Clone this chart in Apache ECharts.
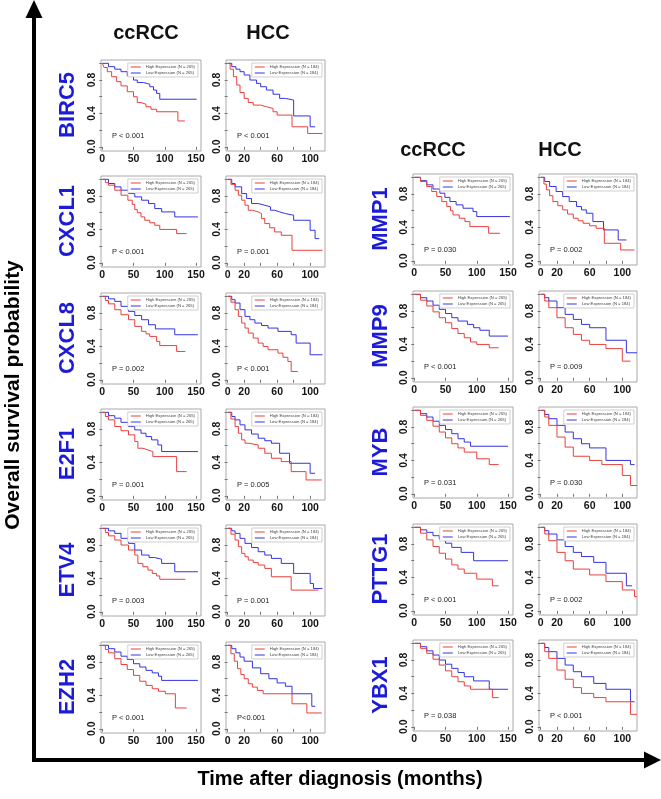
<!DOCTYPE html>
<html><head><meta charset="utf-8">
<script src="https://cdn.jsdelivr.net/npm/echarts@6/dist/echarts.min.js"></script>
<style>html,body{margin:0;padding:0;background:#fff}#main{width:661px;height:799px}</style>
</head><body><div id="main"></div>
<script>
// ---------- DATA (time in months, survival probability; step functions) ----------
const genesLeft = ['BIRC5','CXCL1','CXCL8','E2F1','ETV4','EZH2'];
const genesRight = ['MMP1','MMP9','MYB','PTTG1','YBX1'];
const pLeftCC  = ['P < 0.001','P < 0.001','P = 0.002','P = 0.001','P = 0.003','P < 0.001'];
const pLeftHCC = ['P < 0.001','P = 0.001','P < 0.001','P = 0.005','P = 0.001','P<0.001'];
const pRightCC  = ['P = 0.030','P < 0.001','P = 0.031','P < 0.001','P = 0.038'];
const pRightHCC = ['P = 0.002','P = 0.009','P = 0.030','P = 0.002','P < 0.001'];
const ccTickLabels = [0,50,100,150];
const hccTickLabels = [0,20,60,100];
const hccTicks = [0,20,40,60,80,100];
const yTickLabels = [0,0.4,0.8];
const yTicks = [0,0.2,0.4,0.6,0.8,1.0];

const BIRC5_cc_high = [[0,1],[3,0.95],[8,0.9],[15,0.84],[23,0.78],[30,0.73],[40,0.66],[50,0.6],[56,0.53],[62,0.51],[70,0.48],[78,0.45],[87,0.42],[121,0.31],[132,0.31]];
const BIRC5_cc_low  = [[0,1],[10,0.96],[20,0.93],[30,0.9],[40,0.85],[50,0.8],[56,0.77],[66,0.75],[76,0.72],[82,0.68],[87,0.64],[92,0.57],[151,0.57]];
const BIRC5_hcc_high = [[0,1],[3,0.93],[7,0.84],[11,0.74],[15,0.65],[20,0.58],[25,0.53],[31,0.5],[40,0.48],[47,0.46],[55,0.42],[60,0.38],[78,0.24],[97,0.16],[115,0.16]];
const BIRC5_hcc_low  = [[0,1],[5,0.96],[10,0.93],[15,0.9],[20,0.86],[27,0.8],[35,0.76],[40,0.72],[47,0.68],[55,0.63],[63,0.58],[70,0.56],[80,0.37],[100,0.24],[106,0.24]];

const CXCL1_cc_high = [[0,1],[5,0.96],[10,0.93],[20,0.87],[30,0.81],[41,0.75],[48,0.7],[52,0.64],[56,0.6],[62,0.55],[68,0.51],[76,0.48],[84,0.45],[92,0.4],[119,0.35],[135,0.35]];
const CXCL1_cc_low  = [[0,1],[10,0.95],[20,0.91],[30,0.87],[42,0.83],[52,0.79],[63,0.75],[74,0.71],[84,0.65],[95,0.61],[116,0.55],[153,0.55]];
const CXCL1_hcc_high = [[0,1],[4,0.94],[9,0.87],[13,0.81],[17,0.75],[21,0.69],[25,0.63],[30,0.61],[37,0.59],[41,0.53],[45,0.47],[51,0.42],[57,0.37],[65,0.33],[78,0.15],[115,0.15]];
const CXCL1_hcc_low  = [[0,1],[5,0.95],[9,0.91],[17,0.83],[23,0.77],[29,0.71],[37,0.69],[45,0.67],[52,0.63],[57,0.61],[63,0.59],[70,0.57],[80,0.51],[100,0.39],[106,0.29],[111,0.29]];

const CXCL8_cc_high = [[0,1],[5,0.95],[10,0.91],[20,0.84],[30,0.78],[42,0.72],[52,0.64],[63,0.58],[70,0.55],[76,0.52],[87,0.46],[92,0.41],[119,0.34],[133,0.34]];
const CXCL8_cc_low  = [[0,1],[10,0.97],[20,0.94],[30,0.88],[42,0.82],[52,0.77],[63,0.72],[74,0.66],[85,0.61],[116,0.54],[153,0.54]];
const CXCL8_hcc_high = [[0,1],[4,0.93],[9,0.84],[13,0.76],[17,0.68],[21,0.62],[25,0.56],[31,0.5],[37,0.44],[43,0.4],[49,0.36],[61,0.32],[67,0.27],[73,0.22],[77,0.1],[85,0.1]];
const CXCL8_hcc_low  = [[0,1],[5,0.96],[9,0.92],[15,0.84],[21,0.76],[27,0.72],[33,0.68],[41,0.65],[49,0.62],[61,0.58],[77,0.54],[83,0.44],[100,0.3],[115,0.3]];

const E2F1_cc_high = [[0,1],[5,0.95],[10,0.91],[20,0.83],[30,0.78],[42,0.73],[52,0.65],[57,0.57],[65,0.55],[73,0.53],[81,0.47],[119,0.29],[135,0.29]];
const E2F1_cc_low  = [[0,1],[10,0.96],[20,0.93],[30,0.88],[42,0.83],[52,0.79],[62,0.75],[70,0.71],[79,0.67],[89,0.61],[95,0.53],[153,0.53]];
const E2F1_hcc_high = [[0,1],[4,0.92],[9,0.83],[13,0.75],[17,0.67],[21,0.63],[25,0.61],[37,0.57],[45,0.51],[53,0.45],[65,0.41],[77,0.29],[95,0.19],[114,0.19]];
const E2F1_hcc_low  = [[0,1],[5,0.95],[9,0.91],[15,0.85],[21,0.79],[29,0.74],[37,0.69],[45,0.66],[53,0.63],[63,0.51],[75,0.39],[100,0.27],[106,0.27]];

const ETV4_cc_high = [[0,1],[5,0.95],[10,0.91],[20,0.86],[30,0.8],[42,0.74],[52,0.68],[57,0.58],[65,0.54],[73,0.5],[80,0.46],[87,0.43],[92,0.39],[133,0.39]];
const ETV4_cc_low  = [[0,1],[10,0.97],[20,0.94],[30,0.88],[42,0.82],[52,0.74],[63,0.68],[75,0.65],[84,0.63],[95,0.58],[116,0.48],[153,0.48]];
const ETV4_hcc_high = [[0,1],[4,0.93],[9,0.86],[13,0.78],[17,0.7],[21,0.66],[25,0.62],[31,0.59],[37,0.56],[45,0.52],[53,0.42],[77,0.26],[110,0.26]];
const ETV4_hcc_low  = [[0,1],[5,0.97],[9,0.94],[15,0.88],[21,0.82],[29,0.77],[37,0.72],[45,0.68],[53,0.64],[65,0.58],[80,0.46],[100,0.34],[104,0.28],[115,0.28]];

const EZH2_cc_high = [[0,1],[5,0.95],[10,0.91],[20,0.84],[30,0.77],[40,0.71],[50,0.64],[60,0.57],[70,0.52],[80,0.48],[90,0.45],[101,0.42],[117,0.25],[135,0.25]];
const EZH2_cc_low  = [[0,1],[10,0.96],[20,0.92],[30,0.87],[40,0.83],[50,0.78],[60,0.74],[70,0.7],[80,0.67],[90,0.63],[95,0.58],[153,0.58]];
const EZH2_hcc_high = [[0,1],[4,0.9],[8,0.81],[12,0.72],[16,0.65],[20,0.6],[25,0.54],[30,0.5],[36,0.46],[43,0.42],[78,0.3],[96,0.19],[114,0.19]];
const EZH2_hcc_low  = [[0,1],[5,0.96],[10,0.91],[15,0.86],[20,0.81],[30,0.73],[40,0.66],[50,0.6],[60,0.55],[70,0.51],[78,0.42],[102,0.27],[106,0.27]];

const MMP1_cc_high = [[0,1],[10,0.95],[20,0.89],[28,0.83],[36,0.77],[44,0.71],[52,0.65],[58,0.6],[62,0.55],[72,0.51],[81,0.47],[89,0.41],[119,0.33],[137,0.33]];
const MMP1_cc_low  = [[0,1],[10,0.96],[20,0.91],[30,0.86],[41,0.81],[49,0.76],[57,0.71],[67,0.67],[78,0.63],[94,0.59],[100,0.53],[153,0.53]];
const MMP1_hcc_high = [[0,1],[4,0.92],[7,0.85],[11,0.78],[15,0.71],[21,0.66],[27,0.61],[33,0.56],[40,0.51],[46,0.48],[52,0.45],[60,0.42],[68,0.39],[78,0.21],[98,0.13],[115,0.13]];
const MMP1_hcc_low  = [[0,1],[5,0.95],[11,0.89],[19,0.83],[27,0.77],[35,0.71],[44,0.65],[50,0.61],[56,0.57],[64,0.47],[77,0.37],[95,0.25],[105,0.25]];

const MMP9_cc_high = [[0,1],[10,0.93],[20,0.86],[30,0.79],[40,0.72],[50,0.66],[60,0.59],[70,0.53],[80,0.48],[90,0.43],[100,0.4],[120,0.36],[135,0.36]];
const MMP9_cc_low  = [[0,1],[10,0.96],[20,0.92],[30,0.87],[40,0.82],[50,0.77],[60,0.72],[70,0.68],[85,0.64],[95,0.6],[105,0.57],[120,0.5],[150,0.5]];
const MMP9_hcc_high = [[0,1],[5,0.92],[10,0.84],[20,0.72],[30,0.6],[40,0.52],[50,0.45],[60,0.4],[80,0.35],[100,0.2],[110,0.2]];
const MMP9_hcc_low  = [[0,1],[5,0.96],[10,0.92],[20,0.84],[30,0.76],[40,0.7],[50,0.64],[60,0.6],[80,0.45],[105,0.3],[118,0.3]];

const MYB_cc_high = [[0,1],[10,0.94],[20,0.88],[30,0.81],[40,0.74],[50,0.67],[60,0.6],[70,0.55],[80,0.5],[100,0.42],[120,0.35],[135,0.35]];
const MYB_cc_low  = [[0,1],[10,0.96],[20,0.92],[30,0.87],[40,0.82],[50,0.77],[60,0.72],[70,0.66],[80,0.62],[90,0.57],[150,0.57]];
const MYB_hcc_high = [[0,1],[5,0.92],[10,0.82],[20,0.68],[30,0.56],[40,0.45],[60,0.4],[75,0.35],[100,0.22],[110,0.1],[118,0.1]];
const MYB_hcc_low  = [[0,1],[5,0.95],[10,0.9],[20,0.82],[30,0.74],[40,0.66],[50,0.6],[60,0.55],[80,0.4],[110,0.35],[115,0.35]];

const PTTG1_cc_high = [[0,1],[10,0.93],[20,0.85],[30,0.77],[40,0.69],[50,0.62],[60,0.55],[70,0.5],[80,0.45],[100,0.38],[125,0.3],[135,0.3]];
const PTTG1_cc_low  = [[0,1],[10,0.97],[20,0.94],[30,0.9],[40,0.86],[50,0.81],[60,0.76],[75,0.7],[95,0.6],[150,0.6]];
const PTTG1_hcc_high = [[0,1],[5,0.92],[10,0.84],[20,0.7],[30,0.6],[40,0.5],[60,0.43],[80,0.35],[100,0.25],[115,0.17],[118,0.17]];
const PTTG1_hcc_low  = [[0,1],[5,0.96],[10,0.92],[20,0.85],[30,0.77],[40,0.7],[50,0.65],[65,0.58],[80,0.45],[105,0.3],[112,0.3]];

const YBX1_cc_high = [[0,1],[10,0.94],[20,0.88],[30,0.81],[40,0.74],[50,0.67],[60,0.6],[70,0.54],[80,0.49],[90,0.45],[125,0.35],[135,0.35]];
const YBX1_cc_low  = [[0,1],[10,0.96],[20,0.91],[30,0.86],[40,0.8],[50,0.75],[60,0.7],[70,0.65],[80,0.6],[95,0.55],[120,0.45],[150,0.45]];
const YBX1_hcc_high = [[0,1],[5,0.9],[10,0.82],[20,0.68],[30,0.57],[40,0.47],[50,0.4],[65,0.35],[80,0.3],[110,0.15],[118,0.15]];
const YBX1_hcc_low  = [[0,1],[5,0.95],[10,0.9],[20,0.82],[30,0.74],[40,0.66],[50,0.6],[65,0.52],[80,0.45],[110,0.3],[115,0.3]];

const highCurves = {BIRC5:[BIRC5_cc_high,BIRC5_hcc_high],CXCL1:[CXCL1_cc_high,CXCL1_hcc_high],CXCL8:[CXCL8_cc_high,CXCL8_hcc_high],E2F1:[E2F1_cc_high,E2F1_hcc_high],ETV4:[ETV4_cc_high,ETV4_hcc_high],EZH2:[EZH2_cc_high,EZH2_hcc_high],
  MMP1:[MMP1_cc_high,MMP1_hcc_high],MMP9:[MMP9_cc_high,MMP9_hcc_high],MYB:[MYB_cc_high,MYB_hcc_high],PTTG1:[PTTG1_cc_high,PTTG1_hcc_high],YBX1:[YBX1_cc_high,YBX1_hcc_high]};
const lowCurves = {BIRC5:[BIRC5_cc_low,BIRC5_hcc_low],CXCL1:[CXCL1_cc_low,CXCL1_hcc_low],CXCL8:[CXCL8_cc_low,CXCL8_hcc_low],E2F1:[E2F1_cc_low,E2F1_hcc_low],ETV4:[ETV4_cc_low,ETV4_hcc_low],EZH2:[EZH2_cc_low,EZH2_hcc_low],
  MMP1:[MMP1_cc_low,MMP1_hcc_low],MMP9:[MMP9_cc_low,MMP9_hcc_low],MYB:[MYB_cc_low,MYB_hcc_low],PTTG1:[PTTG1_cc_low,PTTG1_hcc_low],YBX1:[YBX1_cc_low,YBX1_hcc_low]};

// ---------- LAYOUT / STYLE ----------
const FONT = '"Liberation Sans", Arial, Helvetica, sans-serif';
const RED = '#e8403f', BLUE = '#3434e0', GENE = '#1c1cd8';
const W = 661, H = 91;
const grids = [], xAxes = [], yAxes = [], series = [], legends = [], graphics = [];

function panel(left, top, width, cc, high, low, p) {
  const i = grids.length;
  grids.push({left, top, width, height: H, show: true, borderColor: '#a8a8a8', borderWidth: 1, backgroundColor: 'transparent'});
  const lab = {fontSize: 10.5, fontWeight: 'bold', color: '#151515', fontFamily: FONT};
  xAxes.push({type: 'value', gridIndex: i, min: -2, max: cc ? 158 : 118,
    axisLine: {show: false}, splitLine: {show: false},
    axisTick: {show: true, length: 3, lineStyle: {color: '#777'}, customValues: cc ? ccTickLabels : hccTicks},
    axisLabel: Object.assign({customValues: cc ? ccTickLabels : hccTickLabels, margin: 3}, lab)});
  yAxes.push({type: 'value', gridIndex: i, min: -0.05, max: 1.04,
    axisLine: {show: false}, splitLine: {show: false},
    axisTick: {show: true, length: 3, lineStyle: {color: '#777'}, customValues: yTicks},
    axisLabel: Object.assign({customValues: yTickLabels, rotate: 90, margin: 3, formatter: v => Number(v).toFixed(1)}, lab)});
  const n = cc ? '265' : '184';
  const hn = 'High Expression (N = ' + n + ')', ln = 'Low Expression (N = ' + n + ')';
  series.push({type: 'line', name: hn, xAxisIndex: i, yAxisIndex: i, data: high, step: 'end', showSymbol: false, symbol: 'none',
    lineStyle: {width: 1, color: RED}, itemStyle: {color: RED}, silent: true, z: 3});
  series.push({type: 'line', name: ln, xAxisIndex: i, yAxisIndex: i, data: low, step: 'end', showSymbol: false, symbol: 'none',
    lineStyle: {width: 1, color: BLUE}, itemStyle: {color: BLUE}, silent: true, z: 2});
  legends.push({orient: 'vertical', right: W - (left + width) + 3, top: top + 3, icon: 'rect', itemWidth: 10, itemHeight: 1,
    itemGap: 2, padding: [2, 3], borderColor: '#b0b0b0', borderWidth: 0.6, backgroundColor: '#fff',
    selectedMode: false, data: [hn, ln], textStyle: {fontSize: 4.2, color: '#444', fontFamily: FONT}});
  graphics.push({type: 'text', left: left + 11, top: top + 72, silent: true,
    style: {text: p, fontSize: 7.5, fill: '#222', fontFamily: FONT}});
}

function geneLabel(name, x, y) {
  graphics.push({type: 'text', x: x, y: y, rotation: Math.PI / 2, silent: true,
    style: {text: name, fontSize: 22, fontWeight: 'bold', fill: GENE, fontFamily: FONT, align: 'center', verticalAlign: 'middle'}});
}
function header(t, x, y) {
  graphics.push({type: 'text', x: x, y: y, silent: true,
    style: {text: t, fontSize: 20, fontWeight: 'bold', fill: '#111', fontFamily: FONT, align: 'center', verticalAlign: 'middle'}});
}

// left column
genesLeft.forEach((g, r) => {
  const top = Math.round(60 + 116.3 * r);
  panel(101, top, 100, true, highCurves[g][0], lowCurves[g][0], pLeftCC[r]);
  panel(226, top, 99, false, highCurves[g][1], lowCurves[g][1], pLeftHCC[r]);
  geneLabel(g, 68, top + 45);
});
// right column
genesRight.forEach((g, r) => {
  const top = Math.round(174 + 116.5 * r);
  panel(413, top, 100, true, highCurves[g][0], lowCurves[g][0], pRightCC[r]);
  panel(539, top, 98, false, highCurves[g][1], lowCurves[g][1], pRightHCC[r]);
  geneLabel(g, 381, top + 45);
});

header('ccRCC', 146, 33); header('HCC', 268, 33);
header('ccRCC', 433, 150); header('HCC', 560, 150);

// axes arrows and titles
graphics.push({type: 'line', silent: true, shape: {x1: 34, y1: 14, x2: 34, y2: 762}, style: {stroke: '#000', lineWidth: 4}});
graphics.push({type: 'polygon', silent: true, shape: {points: [[25.5, 18], [34, 0], [42.5, 18]]}, style: {fill: '#000'}});
graphics.push({type: 'line', silent: true, shape: {x1: 32, y1: 760, x2: 648, y2: 760}, style: {stroke: '#000', lineWidth: 4}});
graphics.push({type: 'polygon', silent: true, shape: {points: [[644, 751.5], [661, 760], [644, 768.5]]}, style: {fill: '#000'}});
graphics.push({type: 'text', x: 13, y: 395, rotation: Math.PI / 2, silent: true,
  style: {text: 'Overall survival probability', fontSize: 21, fontWeight: 'bold', fill: '#000', fontFamily: FONT, align: 'center', verticalAlign: 'middle'}});
graphics.push({type: 'text', x: 340, y: 779, silent: true,
  style: {text: 'Time after diagnosis (months)', fontSize: 20, fontWeight: 'bold', fill: '#000', fontFamily: FONT, align: 'center', verticalAlign: 'middle'}});

const chart = echarts.init(document.getElementById('main'));
chart.setOption({
  animation: false,
  backgroundColor: '#fff',
  textStyle: {fontFamily: FONT},
  grid: grids, xAxis: xAxes, yAxis: yAxes, series: series, legend: legends,
  graphic: graphics
});
</script></body></html>
